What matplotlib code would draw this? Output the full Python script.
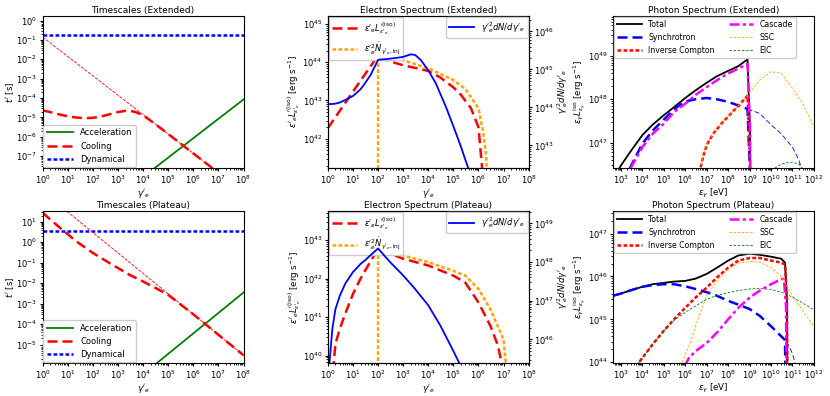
import numpy as np
import matplotlib
matplotlib.use("Agg")
import matplotlib.pyplot as plt
from matplotlib.ticker import LogLocator

plt.rcParams["font.size"] = 6.2
plt.rcParams["axes.titlesize"] = 6.5
plt.rcParams["axes.labelsize"] = 6.2
plt.rcParams["xtick.labelsize"] = 6
plt.rcParams["ytick.labelsize"] = 6
plt.rcParams["legend.fontsize"] = 5.8
plt.rcParams["xtick.major.size"] = 2.5
plt.rcParams["ytick.major.size"] = 2.5
plt.rcParams["xtick.minor.size"] = 1.5
plt.rcParams["ytick.minor.size"] = 1.5
plt.rcParams["xtick.major.pad"] = 1.5
plt.rcParams["ytick.major.pad"] = 1.5

# ---------------- timescales ----------------
gam_line = [1.0, 1e8]
t_dyn_ext = [0.18, 0.18]
t_dyn_pla = [3.5, 3.5]
t_syn_ext = [0.14, 1.4e-9]
t_syn_pla = [300.0, 3e-6]
gam_acc = [1e4, 1e8]
t_acc_ext = [8.5e-9, 8.5e-5]
t_acc_pla = [3.5e-7, 3.5e-3]

gam_cool_ext = [1, 2, 5, 10, 20, 50, 100, 200, 500, 1e3, 2e3, 3e3, 5e3, 1e4,
                2e4, 5e4, 1e5, 1e6, 1e7, 1e8]
t_cool_ext = [2.3e-5, 1.9e-5, 1.4e-5, 1.15e-5, 1.0e-5, 9.2e-6, 9.6e-6, 1.1e-5,
              1.5e-5, 1.9e-5, 2.2e-5, 2.2e-5, 1.9e-5, 1.3e-5, 6.8e-6, 2.8e-6,
              1.4e-6, 1.4e-7, 1.4e-8, 1.4e-9]
gam_cool_pla = [1, 2, 5, 10, 20, 50, 100, 200, 500, 1e3, 3e3, 1e4, 3e4, 1e5,
                1e6, 1e7, 1e8]
t_cool_pla = [28, 13, 5, 2.5, 1.2, 0.55, 0.3, 0.18, 0.09, 0.055, 0.025, 0.012,
              6e-3, 2.7e-3, 3e-4, 3e-5, 3e-6]

# ---------------- electron spectra ----------------
gam_L_ext = [1, 10, 100, 300, 1e3, 3e3, 1e4, 3e4, 1e5, 2e5, 5e5, 1e6, 1.5e6]
L_ext = [1.9e42, 1.7e43, 1.5e44, 1.05e44, 8.3e43, 7.1e43, 5.9e43, 4.0e43,
         2.2e43, 1.4e43, 6.3e42, 2.0e42, 1.0e41]
gam_inj_ext = [100, 100, 130, 1e3, 3e3, 1e4, 3e4, 1e5, 3e5, 1e6, 1.5e6, 2e6, 2.4e6]
inj_ext = [1e30, 2.1e44, 2.0e44, 1.12e44, 8.9e43, 6.9e43, 5.0e43, 3.4e43,
           2.0e43, 6.3e42, 1.6e42, 4e41, 3e40]
gam_N_ext = [1, 1.5, 2, 3, 5, 10, 20, 30, 50, 100, 120, 200, 500, 1e3, 2e3, 3e3,
             5e3, 1e4, 2e4, 3e4, 5e4, 1e5, 2e5, 3e5, 5e5]
N_ext = [1.23e44, 1.23e44, 1.26e44, 1.35e44, 1.58e44, 2.0e44, 3.0e44, 4.3e44,
         7.1e44, 1.78e45, 1.82e45, 1.86e45, 2.0e45, 2.14e45, 2.5e45, 2.4e45,
         1.78e45, 9.5e44, 4.3e44, 2.3e44, 1.05e44, 3.2e43, 9.3e42, 4.2e42, 1.6e42]

gam_L_pla = [1.6, 2, 3, 5, 10, 20, 30, 50, 100, 1e3, 1e4, 1e5, 3e5, 1e6, 3e6,
             6e6, 9e6]
L_pla = [4e39, 2.0e40, 5.0e40, 1.26e41, 4.0e41, 1.0e42, 1.6e42, 2.8e42, 6.0e42,
         3.3e42, 2.2e42, 1.2e42, 7.9e41, 2.4e41, 5.9e40, 1.8e40, 5e39]
gam_inj_pla = [100, 100, 130, 1e3, 1e4, 1e5, 3e5, 1e6, 3e6, 1e7, 1.3e7]
inj_pla = [1e30, 6.6e42, 6.3e42, 4.0e42, 2.7e42, 1.6e42, 1.2e42, 5.4e41,
           1.6e41, 2.6e40, 4e39]
gam_N_pla = [1.1, 1.5, 2, 3, 5, 10, 20, 30, 50, 100, 300, 1e3, 3e3, 1e4, 3e4,
             1e5, 2e5]
N_pla = [1.6e45, 1.8e46, 6.0e46, 1.35e47, 2.8e47, 5.5e47, 8.9e47, 1.1e48,
         1.5e48, 2.24e48, 1.0e48, 4.5e47, 2.0e47, 7.6e46, 2.3e46, 5.0e45, 2.0e45]

# ---------------- photon spectra (Extended) ----------------
e_tot_ext = [8.5e2, 1e3, 3e3, 1e4, 3e4, 1e5, 3e5, 1e6, 3e6, 1e7, 3e7, 1e8, 3e8,
             8e8, 1.05e9, 1.15e9]
L_tot_ext = [2.6e46, 3.0e46, 6.6e46, 1.5e47, 2.6e47, 4.3e47, 6.6e47, 1.07e48,
             1.6e48, 2.4e48, 3.4e48, 4.5e48, 5.8e48, 8.3e48, 2e47, 1e40]
e_syn_ext = [2.5e3, 1e4, 3e4, 1e5, 3e5, 1e6, 3e6, 1e7, 3e7, 1e8, 3e8, 8e8,
             1.05e9, 1.15e9]
L_syn_ext = [2.5e46, 9.5e46, 1.9e47, 3.4e47, 5.9e47, 8.9e47, 1.0e48, 1.07e48,
             1.0e48, 8.7e47, 7.2e47, 6.0e47, 2e46, 1e40]
e_synthin_ext = [8e8, 3e9, 1e10, 3e10, 1e11, 2e11, 3e11]
L_synthin_ext = [6.0e47, 4.7e47, 2.6e47, 1.6e47, 7.9e46, 4.0e46, 2.0e46]
e_ic_ext = [4.5e6, 7e6, 1e7, 2e7, 5e7, 1e8, 3e8, 8e8, 1.05e9, 1.15e9]
L_ic_ext = [2e46, 5.0e46, 8.9e46, 1.6e47, 2.8e47, 4.0e47, 7.1e47, 1.2e48,
            4e46, 1e40]
e_cas_ext = [2.8e3, 1e4, 3e4, 1e5, 3e5, 1e6, 3e6, 1e7, 3e7, 1e8, 3e8, 8e8,
             1.05e9, 1.2e9]
L_cas_ext = [2.6e46, 7.9e46, 1.6e47, 2.75e47, 5.1e47, 7.9e47, 1.26e48,
             1.9e48, 2.75e48, 3.9e48, 5.1e48, 6.5e48, 2e47, 1e40]
e_ssc_ext = [4.5e6, 7e6, 1e7, 2e7, 5e7, 1e8, 3e8, 8e8, 1e9, 3e9, 1e10, 3e10,
             1e11, 3e11, 1e12]
L_ssc_ext = [2e46, 5.0e46, 8.9e46, 1.6e47, 2.8e47, 4.0e47, 7.1e47, 1.2e48,
             1.4e48, 2.8e48, 4.3e48, 4.0e48, 1.8e48, 7.9e47, 2.3e47]
e_eic_ext = [5e9, 1.5e10, 3e10, 6e10, 1e11, 2e11, 3e11, 4e11]
L_eic_ext = [1.0e46, 2.6e46, 3.2e46, 3.5e46, 3.55e46, 3.2e46, 2.5e46, 1.0e46]

# ---------------- photon spectra (Plateau) ----------------
e_tot_pla = [4.3e2, 1e3, 3e3, 1e4, 3e4, 1e5, 3e5, 1e6, 3e6, 1e7, 3e7, 1e8, 3e8,
             1e9, 3e9, 1e10, 3e10, 4.5e10, 5.5e10, 6.5e10]
L_tot_pla = [3.55e45, 4.0e45, 4.8e45, 5.75e45, 6.6e45, 7.1e45, 7.6e45, 7.9e45,
             8.9e45, 1.15e46, 1.6e46, 2.35e46, 3.1e46, 3.4e46, 3.2e46, 2.9e46,
             2.6e46, 2.1e46, 3e45, 1e40]
e_syn_pla = [4.3e2, 1e3, 3e3, 1e4, 3e4, 1e5, 3e5, 1e6, 3e6, 1e7, 3e7, 1e8, 3e8,
             1e9, 3e9, 1e10, 3e10, 4.5e10, 5.5e10]
L_syn_pla = [3.55e45, 4.0e45, 4.8e45, 5.75e45, 6.3e45, 6.6e45, 6.6e45, 5.9e45,
             5.1e45, 4.3e45, 3.55e45, 2.7e45, 2.2e45, 1.74e45, 1.2e45, 6.9e44,
             4.0e44, 3.3e44, 1e40]
e_synthin_pla = [3e10, 4.5e10, 6e10, 1e11, 1.3e11, 1.5e11]
L_synthin_pla = [4.0e44, 3.4e44, 2.7e44, 1.6e44, 9.5e43, 6e43]
e_ic_pla = [5e3, 1e4, 3e4, 1e5, 3e5, 1e6, 3e6, 1e7, 3e7, 1e8, 3e8, 1e9, 3e9,
            1e10, 3e10, 4.5e10, 5.5e10, 6.5e10]
L_ic_pla = [8e43, 1.26e44, 2.6e44, 5.4e44, 1.0e45, 1.86e45, 3.2e45, 5.5e45,
            9.5e45, 1.6e46, 2.35e46, 2.7e46, 2.7e46, 2.35e46, 2.1e46, 1.9e46,
            3e45, 1e40]
e_cas_pla = [9e5, 1.5e6, 3e6, 1e7, 3e7, 1e8, 3e8, 1e9, 3e9, 1e10, 3e10, 4e10,
             5e10, 6e10]
L_cas_pla = [8e43, 1.26e44, 1.8e44, 2.8e44, 4.9e44, 1.0e45, 1.86e45, 3.2e45,
             4.7e45, 6.6e45, 8.7e45, 8.7e45, 2e45, 1e40]
e_ssc_pla = [6e5, 1.7e6, 3.4e6, 1e7, 3e7, 1e8, 3e8, 1e9, 3e9, 1e10, 3e10, 1e11,
             3e11, 1e12]
L_ssc_pla = [8e43, 2.8e44, 8.3e44, 3.55e45, 7.9e45, 1.48e46, 2.04e46, 2.24e46,
             2.14e46, 1.62e46, 1.02e46, 3.55e45, 1.6e45, 6.9e44]
e_eic_pla = [5e3, 1e4, 3e4, 1e5, 3e5, 1e6, 3e6, 1e7, 3e7, 1e8, 3e8, 1e9, 3e9,
             1e10, 3e10, 1e11, 3e11, 1e12]
L_eic_pla = [8e43, 1.26e44, 2.6e44, 5.4e44, 9.5e44, 1.45e45, 2.05e45, 2.95e45,
             3.6e45, 4.2e45, 4.7e45, 5.1e45, 5.25e45, 5.0e45, 4.3e45, 3.3e45,
             2.4e45, 1.66e45]

DASH = (0, (4, 2))
DOT = (0, (1.5, 0.9))


def log_ticks(ax, x=True, y=True):
    axes = []
    if x:
        axes.append(ax.xaxis)
    if y:
        axes.append(ax.yaxis)
    for a in axes:
        a.set_major_locator(LogLocator(base=10, numticks=30))
        a.set_minor_locator(LogLocator(base=10, subs=np.arange(2, 10), numticks=30))


def timescales(ax, title, gc, tc, t_syn, t_acc, t_dyn, ylim):
    ax.plot(gam_acc, t_acc, color="green", lw=1.3, label="Acceleration")
    ax.plot(gc, tc, color="red", lw=1.8, ls=DASH, label="Cooling")
    ax.plot(gam_line, t_dyn, color="blue", lw=1.8, ls=DOT, label="Dynamical")
    ax.plot(gam_line, t_syn, color="red", lw=0.6, ls="--")
    ax.set_xscale("log")
    ax.set_yscale("log")
    ax.set_xlim(1, 1e8)
    ax.set_ylim(*ylim)
    log_ticks(ax)
    ax.set_title(title, pad=2)
    ax.set_xlabel(r"$\gamma'_e$", labelpad=1)
    ax.set_ylabel(r"$t'$ [s]", labelpad=0)
    ax.legend(loc="lower left", borderaxespad=0.1, handlelength=3.2,
              framealpha=1, fontsize=6)


def electrons(ax, title, gL, L, gi, inj, gN, N, ylim, ylim2):
    l1, = ax.plot(gL, L, color="red", lw=1.8, ls=DASH,
                  label=r"$\varepsilon'_e L^{\prime(\rm iso)}_{\varepsilon'_e}$")
    l2, = ax.plot(gi, inj, color="orange", lw=1.8, ls=DOT,
                  label=r"$\varepsilon'^2_e \dot N_{\gamma'_e,\rm inj}$")
    ax.set_xscale("log")
    ax.set_yscale("log")
    ax.set_xlim(1, 1e8)
    ax.set_ylim(*ylim)
    log_ticks(ax)
    ax.set_title(title, pad=2)
    ax.set_xlabel(r"$\gamma'_e$", labelpad=1)
    ax.set_ylabel(r"$\varepsilon'_e L^{\prime(\rm iso)}_{\varepsilon'_e}$ [erg s$^{-1}$]",
                  labelpad=0)
    ax.legend(handles=[l1, l2], loc="upper left", borderaxespad=0.1,
              handlelength=3, framealpha=1, fontsize=6)
    ax2 = ax.twinx()
    l3, = ax2.plot(gN, N, color="blue", lw=1.3,
                   label=r"$\gamma'^2_e dN/d\gamma'_e$")
    ax2.set_yscale("log")
    ax2.set_ylim(*ylim2)
    log_ticks(ax2, x=False)
    ax2.set_ylabel(r"$\gamma'^2_e dN/d\gamma'_e$", labelpad=1)
    ax2.legend(handles=[l3], loc="upper right", borderaxespad=0.1,
               handlelength=3, framealpha=1, fontsize=6)


def photons(ax, title, d, ylim):
    ax.plot(d["tot"][0], d["tot"][1], color="black", lw=1.3, label="Total")
    ax.plot(d["syn"][0], d["syn"][1], color="blue", lw=1.8, ls=DASH,
            label="Synchrotron")
    ax.plot(d["synthin"][0], d["synthin"][1], color="blue", lw=0.6, ls=(0, (6, 3)))
    ax.plot(d["ic"][0], d["ic"][1], color="red", lw=1.8, ls=DOT,
            label="Inverse Compton")
    ax.plot(d["cas"][0], d["cas"][1], color="magenta", lw=1.8,
            ls=(0, (4, 1.3, 1.3, 1.3)), label="Cascade")
    ax.plot(d["ssc"][0], d["ssc"][1], color="orange", lw=0.6, ls=(0, (3, 2)),
            label="SSC")
    ax.plot(d["eic"][0], d["eic"][1], color="green", lw=0.6, ls=(0, (3, 2)),
            label="EIC")
    ax.set_xscale("log")
    ax.set_yscale("log")
    ax.set_xlim(10 ** 2.63, 1e12)
    ax.set_ylim(*ylim)
    log_ticks(ax)
    ax.set_title(title, pad=2)
    ax.set_xlabel(r"$\varepsilon_\gamma$ [eV]", labelpad=1)
    ax.set_ylabel(r"$\varepsilon_\gamma L^{\rm iso}_{\varepsilon_\gamma}$ [erg s$^{-1}$]",
                  labelpad=0)
    ax.legend(loc="upper left", ncol=2, borderaxespad=0.1, handlelength=3.2,
              columnspacing=1.8, framealpha=1, fontsize=5.6)


fig = plt.figure(figsize=(8.3, 3.96), dpi=100)
w, h = 0.242, 0.384
lefts = [0.0514, 0.395, 0.7386]
bottoms = [0.576, 0.0833]

ax = fig.add_axes([lefts[0], bottoms[0], w, h])
timescales(ax, "Timescales (Extended)", gam_cool_ext, t_cool_ext, t_syn_ext,
           t_acc_ext, t_dyn_ext, (2.5e-8, 1.74))
ax = fig.add_axes([lefts[0], bottoms[1], w, h])
timescales(ax, "Timescales (Plateau)", gam_cool_pla, t_cool_pla, t_syn_pla,
           t_acc_pla, t_dyn_pla, (1.25e-6, 34))

ax = fig.add_axes([lefts[1], bottoms[0], w, h])
electrons(ax, "Electron Spectrum (Extended)", gam_L_ext, L_ext, gam_inj_ext,
          inj_ext, gam_N_ext, N_ext, (10 ** 41.24, 10 ** 45.21),
          (10 ** 42.41, 10 ** 46.41))
ax = fig.add_axes([lefts[1], bottoms[1], w, h])
electrons(ax, "Electron Spectrum (Plateau)", gam_L_pla, L_pla, gam_inj_pla,
          inj_pla, gam_N_pla, N_pla, (10 ** 39.81, 10 ** 43.76),
          (10 ** 45.39, 10 ** 49.32))

ext = {"tot": (e_tot_ext, L_tot_ext), "syn": (e_syn_ext, L_syn_ext),
       "synthin": (e_synthin_ext, L_synthin_ext), "ic": (e_ic_ext, L_ic_ext),
       "cas": (e_cas_ext, L_cas_ext), "ssc": (e_ssc_ext, L_ssc_ext),
       "eic": (e_eic_ext, L_eic_ext)}
pla = {"tot": (e_tot_pla, L_tot_pla), "syn": (e_syn_pla, L_syn_pla),
       "synthin": (e_synthin_pla, L_synthin_pla), "ic": (e_ic_pla, L_ic_pla),
       "cas": (e_cas_pla, L_cas_pla), "ssc": (e_ssc_pla, L_ssc_pla),
       "eic": (e_eic_pla, L_eic_pla)}

ax = fig.add_axes([lefts[2], bottoms[0], w, h])
photons(ax, "Photon Spectrum (Extended)", ext, (10 ** 46.42, 10 ** 49.92))
ax = fig.add_axes([lefts[2], bottoms[1], w, h])
photons(ax, "Photon Spectrum (Plateau)", pla, (10 ** 43.98, 10 ** 47.53))

fig.savefig("out.png", dpi=100)
